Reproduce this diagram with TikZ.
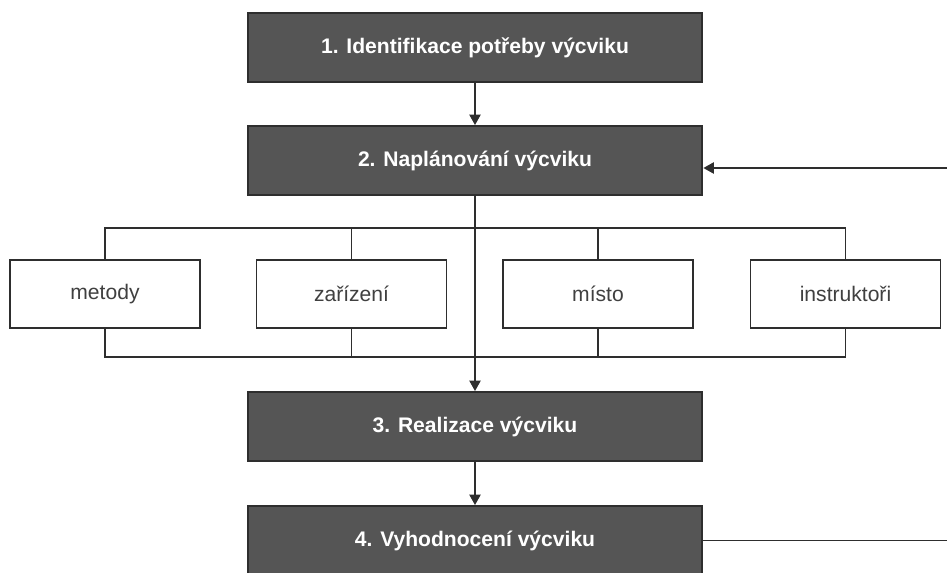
\documentclass[tikz,border=0pt]{standalone}
\usepackage{fontspec}
\setmainfont{Liberation Sans}
\usetikzlibrary{arrows.meta}
\definecolor{fazegray}{HTML}{555555}
\definecolor{linegray}{HTML}{2E2E2E}
\tikzset{
	faze/.style={draw=linegray, line width=1.1pt, fill=fazegray, text=white, font=\fontsize{12}{14}\selectfont\bfseries, minimum width=9.1cm, minimum height=1.38cm, inner sep=0pt},
	slozka/.style={draw=linegray, line width=1.1pt, fill=white, text=black!75, font=\fontsize{12}{14}\selectfont, minimum width=3.8cm, minimum height=1.36cm, inner sep=0pt},
	spoj/.style={draw=linegray, line width=0.8pt},
	sipka/.style={spoj, -{Triangle[width=6.5pt,length=6pt]}}
}

\begin{document}
\begin{tikzpicture}[x=0.02cm, y=-0.02cm]
			%%%%% START %%%%%
			\useasboundingbox (0, 0) rectangle (947, 572);
			\clip (0, 0) rectangle (947, 572);
			
			\node[faze] (ident) at (475, 47.5) {1. Identifikace potřeby výcviku};
			\node[faze] (plan) at (475, 160.5) {2. Naplánování výcviku};
			
			\node[slozka] (metody) at (105, 294) {metody};
			\node[slozka] (zarizeni) at (351.5, 294) {zařízení};
			\node[slozka] (misto) at (598, 294) {místo};
			\node[slozka] (instruktori) at (845.5, 294) {instruktoři};
			
			\node[faze] (realizace) at (475, 426.5) {3. Realizace výcviku};
			\node[faze] (vyhodnoceni) at (475, 540.5) {4. Vyhodnocení výcviku};
			
			\coordinate (busnahore) at (475, 228);
			\coordinate (busdole) at (475, 357);
			\coordinate (zpetnahore) at (947, 168);
			\coordinate (zpetdole) at (947, 540.5);
			
			% sbernice nahore a dole
			\draw[spoj] (metody.north) |- (busnahore) -| (instruktori.north);
			\draw[spoj] (zarizeni.north) -- (zarizeni.north |- busnahore);
			\draw[spoj] (misto.north) -- (misto.north |- busnahore);
			\draw[spoj] (metody.south) |- (busdole) -| (instruktori.south);
			\draw[spoj] (zarizeni.south) -- (zarizeni.south |- busdole);
			\draw[spoj] (misto.south) -- (misto.south |- busdole);
			
			\draw[sipka] (ident) -- (plan);
			\draw[sipka] (plan) -- (realizace);
			\draw[sipka] (realizace) -- (vyhodnoceni);
			
			% zpetna vazba
			\draw[spoj] (vyhodnoceni.east) -- (zpetdole);
			\draw[sipka] (zpetnahore) -- (zpetnahore -| plan.east);
			
			%%%%% END %%%%%
		\end{tikzpicture}
\end{document}
